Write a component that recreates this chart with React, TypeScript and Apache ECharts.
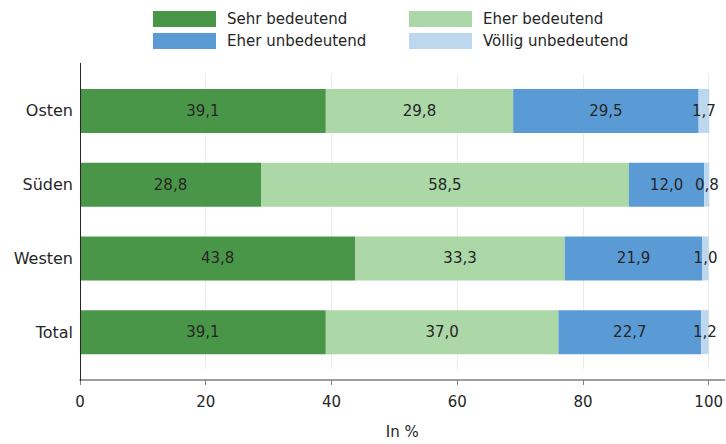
import React, { useEffect, useRef } from "react";
import * as echarts from "echarts";

const categories = ["Osten", "Süden", "Westen", "Total"];
const seriesNames = ["Sehr bedeutend", "Eher bedeutend", "Eher unbedeutend", "Völlig unbedeutend"];
const sehrBedeutend = [39.1, 28.8, 43.8, 39.1];
const eherBedeutend = [29.8, 58.5, 33.3, 37.0];
const eherUnbedeutend = [29.5, 12.0, 21.9, 22.7];
const voelligUnbedeutend = [1.7, 0.8, 1.0, 1.2];
const xTicks = [0, 20, 40, 60, 80, 100];
const colors = ["#4a9648", "#acd7a7", "#5b9bd5", "#bdd7ee"];

const FONT = "DejaVu Sans";
const TEXT = "#262626";

export default function App() {
  const ref = useRef<HTMLDivElement>(null);
  useEffect(() => {
    if (!ref.current) return;
    const chart = echarts.init(ref.current, undefined, { renderer: "svg" });
    const values = [sehrBedeutend, eherBedeutend, eherUnbedeutend, voelligUnbedeutend];
    const fmt = (v: number) => v.toFixed(1).replace(".", ",");
    const legendBase = {
      orient: "vertical",
      top: 11,
      padding: 0,
      itemWidth: 63,
      itemHeight: 16,
      itemGap: 6,
      icon: "rect",
      textStyle: { fontFamily: FONT, fontSize: 15, color: TEXT, padding: [0, 0, 0, 6] },
    };
    chart.setOption({
      animation: false,
      textStyle: { fontFamily: FONT },
      legend: [
        { ...legendBase, data: [seriesNames[0], seriesNames[2]], left: 153 },
        { ...legendBase, data: [seriesNames[1], seriesNames[3]], left: 409 },
      ],
      grid: { left: 80, right: 1, top: 74, bottom: 74 },
      xAxis: {
        type: "value",
        min: 0,
        max: 102.54,
        interval: 20,
        offset: 11,
        name: "In %",
        nameLocation: "middle",
        nameGap: 44,
        nameTextStyle: { fontFamily: FONT, fontSize: 15, color: TEXT },
        axisLine: { show: true, lineStyle: { color: "#7f7f7f", width: 1.5 } },
        axisTick: { show: true, length: 5, customValues: xTicks, lineStyle: { color: "#7f7f7f" } },
        axisLabel: { customValues: xTicks, margin: 14, fontFamily: FONT, fontSize: 15, color: TEXT },
        splitLine: { show: true, lineStyle: { color: "#ebebeb" } },
      },
      yAxis: {
        type: "category",
        data: categories,
        inverse: true,
        axisLine: { show: false },
        axisTick: { show: false },
        axisLabel: { margin: 7, fontFamily: FONT, fontSize: 16, color: TEXT },
      },
      graphic: [
        {
          type: "line",
          shape: { x1: 80.5, y1: 63, x2: 80.5, y2: 381 },
          style: { stroke: "#262626", lineWidth: 1 },
          z: 10,
        },
      ],
      series: seriesNames.map((name, i) => ({
        name,
        type: "bar",
        stack: "total",
        barWidth: 44,
        data: values[i],
        itemStyle: { color: colors[i] },
        label: {
          show: true,
          position: "inside",
          formatter: (p: any) => fmt(p.value),
          fontFamily: FONT,
          fontSize: 15,
          color: TEXT,
        },
      })),
    });
    return () => chart.dispose();
  }, []);
  return (
    <div
      ref={ref}
      style={{ position: "absolute", left: 0, top: 0, width: 726, height: 444 }}
    />
  );
}
